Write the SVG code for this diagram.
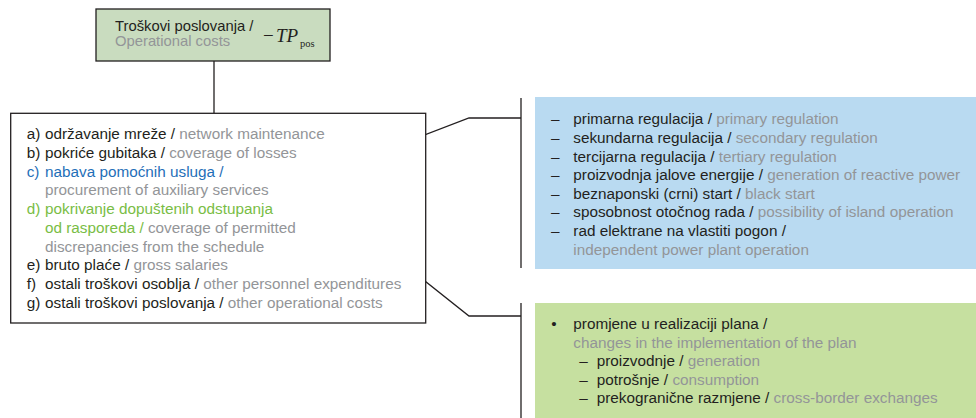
<svg xmlns="http://www.w3.org/2000/svg" width="976" height="418" viewBox="0 0 976 418">
<style>
text{font-family:"Liberation Sans",Arial,sans-serif;font-size:15.3px;fill:#231f20}
.g{fill:#939598}
.b{fill:#1f6fb8}
.gr{fill:#79bd45}
.ln{fill:none;stroke:#231f20;stroke-width:1.3}
.m{font-family:"Liberation Serif","Times New Roman",serif;font-style:italic}
.t{font-size:14.8px}
</style>
<rect width="976" height="418" fill="#ffffff"/>
<g id="connectors">
<line class="ln" x1="214" y1="61" x2="214" y2="113"/>
<polyline class="ln" points="328,172 469,118 521,118"/>
<line class="ln" x1="521" y1="98" x2="521" y2="268"/>
<polyline class="ln" points="328,204 469,316 521,316"/>
<line class="ln" x1="521" y1="303" x2="521" y2="418"/>
</g>
<g id="top">
<rect x="96" y="9" width="234" height="52" fill="#c9dcbf" stroke="#231f20" stroke-width="1.3"/>
<text x="115" y="31" class="t">Troškovi poslovanja /</text>
<text x="115" y="46.2" class="t g">Operational costs</text>
<text x="263" y="41.7" style="font-family:'Liberation Serif','Times New Roman',serif;font-size:19px">−</text>
<text x="276" y="41.7" class="m" style="font-size:19px">TP</text>
<text x="300" y="46.7" style="font-family:'Liberation Serif','Times New Roman',serif;font-size:10.5px">pos</text>
</g>
<g id="costs">
<rect x="10.7" y="113.3" width="415" height="209.7" fill="#ffffff" stroke="#231f20" stroke-width="1.3"/>
<text x="26.7" y="139.3">a)</text><text x="45" y="139.3">održavanje mreže / <tspan class="g">network maintenance</tspan></text>
<text x="26.7" y="158">b)</text><text x="45" y="158">pokriće gubitaka / <tspan class="g">coverage of losses</tspan></text>
<text x="26.7" y="176.7" class="b">c)</text><text x="45" y="176.7" class="b">nabava pomoćnih usluga /</text>
<text x="45" y="195.4" class="g">procurement of auxiliary services</text>
<text x="26.7" y="214.1" class="gr">d)</text><text x="45" y="214.1" class="gr">pokrivanje dopuštenih odstupanja</text>
<text x="45" y="232.8"><tspan class="gr">od rasporeda / </tspan><tspan class="g">coverage of permitted</tspan></text>
<text x="45" y="251.5" class="g">discrepancies from the schedule</text>
<text x="26.7" y="270.2">e)</text><text x="45" y="270.2">bruto plaće / <tspan class="g">gross salaries</tspan></text>
<text x="26.7" y="288.9">f)</text><text x="45" y="288.9">ostali troškovi osoblja / <tspan class="g">other personnel expenditures</tspan></text>
<text x="26.7" y="307.6">g)</text><text x="45" y="307.6">ostali troškovi poslovanja / <tspan class="g">other operational costs</tspan></text>
</g>
<g id="services">
<rect x="535" y="97" width="441" height="172" fill="#b9daf1"/>
<text x="551" y="124.3">–</text><text x="573.3" y="124.3">primarna regulacija / <tspan class="g">primary regulation</tspan></text>
<text x="551" y="142.9">–</text><text x="573.3" y="142.9">sekundarna regulacija / <tspan class="g">secondary regulation</tspan></text>
<text x="551" y="161.5">–</text><text x="573.3" y="161.5">tercijarna regulacija / <tspan class="g">tertiary regulation</tspan></text>
<text x="551" y="180.1">–</text><text x="573.3" y="180.1">proizvodnja jalove energije / <tspan class="g">generation of reactive power</tspan></text>
<text x="551" y="198.7">–</text><text x="573.3" y="198.7">beznaponski (crni) start / <tspan class="g">black start</tspan></text>
<text x="551" y="217.3">–</text><text x="573.3" y="217.3">sposobnost otočnog rada / <tspan class="g">possibility of island operation</tspan></text>
<text x="551" y="235.9">–</text><text x="573.3" y="235.9">rad elektrane na vlastiti pogon /</text>
<text x="573.3" y="254.5" class="g">independent power plant operation</text>
</g>
<g id="discrepancies">
<rect x="535" y="303" width="441" height="115" fill="#c6e0a0"/>
<text x="551.3" y="329.3">•</text><text x="573.3" y="329.3">promjene u realizaciji plana /</text>
<text x="573.3" y="347.8" class="g">changes in the implementation of the plan</text>
<text x="579.3" y="366.3">–</text><text x="596.7" y="366.3">proizvodnje / <tspan class="g">generation</tspan></text>
<text x="579.3" y="384.8">–</text><text x="596.7" y="384.8">potrošnje / <tspan class="g">consumption</tspan></text>
<text x="579.3" y="403.3">–</text><text x="596.7" y="403.3">prekogranične razmjene / <tspan class="g">cross-border exchanges</tspan></text>
</g>
</svg>
